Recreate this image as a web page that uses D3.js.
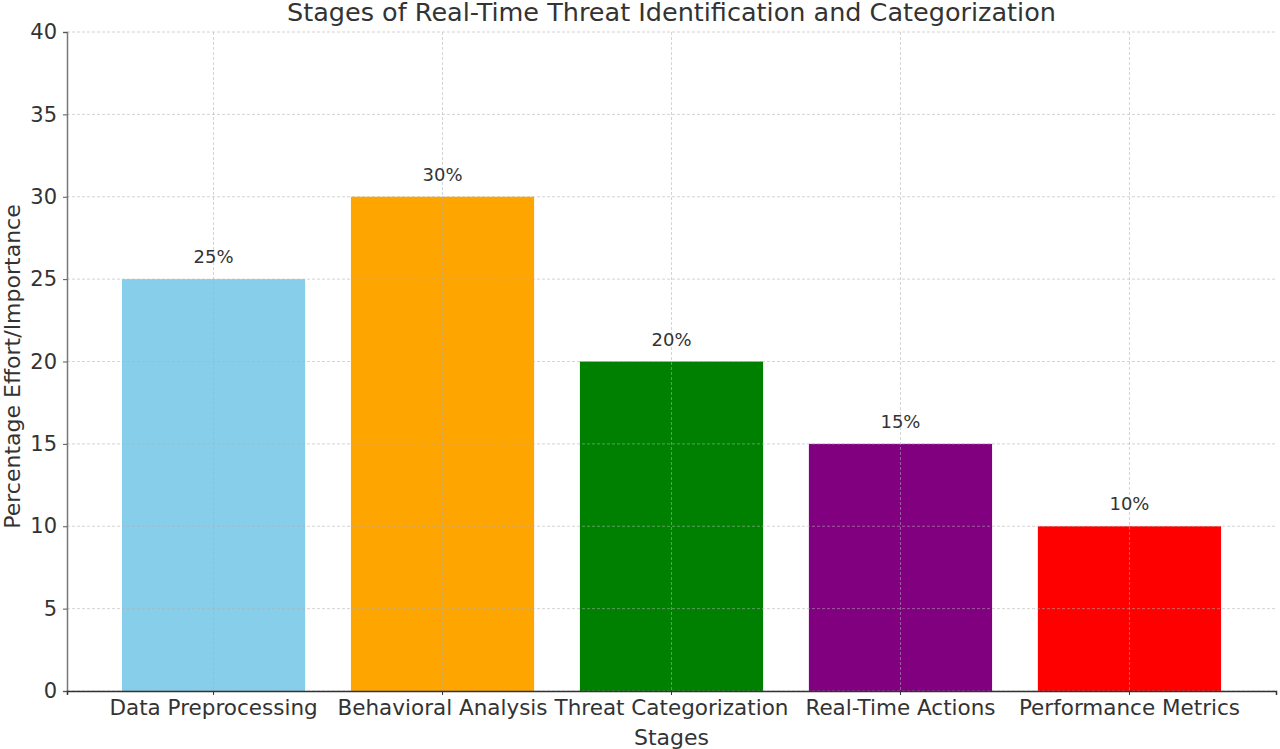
<!DOCTYPE html>
<html><head><meta charset="utf-8">
<script src="https://cdn.jsdelivr.net/npm/d3@7"></script>
<style>body{margin:0;background:#fff}svg{display:block}text{font-family:"DejaVu Sans",sans-serif}</style>
</head><body><svg id="c" width="1280" height="749"></svg>
<script>
const categories = ["Data Preprocessing","Behavioral Analysis","Threat Categorization","Real-Time Actions","Performance Metrics"];
const values = [25,30,20,15,10];
const colors = ["#87CEEB","#FFA500","#008000","#800080","#FF0000"];
const yTicks = [0,5,10,15,20,25,30,35,40];
const title = "Stages of Real-Time Threat Identification and Categorization";

const svg = d3.select("#c");
const L=67, R=1276, T=32, B=691;
const x = d3.scaleBand().domain(categories).range([L,R]).paddingInner(0.2).paddingOuter(0.24);
const y = d3.scaleLinear().domain([0,40]).range([B,T]);
const txt="#333";

// bars
svg.append("g").selectAll("rect").data(values).join("rect")
  .attr("x",(d,i)=>x(categories[i])).attr("width",x.bandwidth())
  .attr("y",d=>y(d)).attr("height",d=>y(0)-y(d)).attr("fill",(d,i)=>colors[i]);

// grid
const g = svg.append("g").attr("stroke","#b0b0b0").attr("stroke-opacity",0.55).attr("stroke-width",1).attr("stroke-dasharray","3,2");
g.selectAll(".h").data(yTicks).join("line").attr("x1",L).attr("x2",R).attr("y1",d=>y(d)).attr("y2",d=>y(d));
g.selectAll(".v").data(categories).join("line").attr("x1",d=>x(d)+x.bandwidth()/2).attr("x2",d=>x(d)+x.bandwidth()/2).attr("y1",T).attr("y2",B);

// axes
const ya = svg.append("g").attr("transform",`translate(${L},0)`).call(d3.axisLeft(y).tickValues(yTicks).tickSize(4).tickPadding(6));
ya.select(".domain").attr("stroke","#777").attr("stroke-width",1.5);
ya.selectAll(".tick line").attr("stroke","#555");
ya.selectAll("text").attr("font-size",21).attr("fill",txt);
const xa = svg.append("g").attr("transform",`translate(0,${B})`).call(d3.axisBottom(x).tickSize(4).tickPadding(5));
xa.select(".domain").attr("stroke","#333").attr("stroke-width",1.5);
xa.selectAll(".tick line").attr("stroke","#333");
xa.selectAll("text").attr("font-size",21.5).attr("fill",txt);

// value labels
svg.append("g").selectAll("text").data(values).join("text")
  .attr("x",(d,i)=>x(categories[i])+x.bandwidth()/2).attr("y",d=>y(d)-16)
  .attr("text-anchor","middle").attr("font-size",18).attr("fill",txt).text(d=>d+"%");

svg.append("text").attr("x",(L+R)/2).attr("y",21).attr("text-anchor","middle").attr("font-size",25.5).attr("fill",txt).text(title);
svg.append("text").attr("x",(L+R)/2).attr("y",745).attr("text-anchor","middle").attr("font-size",22).attr("fill",txt).text("Stages");
svg.append("text").attr("transform",`translate(20,${(T+B)/2+5}) rotate(-90)`).attr("text-anchor","middle").attr("font-size",22).attr("fill",txt).text("Percentage Effort/Importance");
</script></body></html>
